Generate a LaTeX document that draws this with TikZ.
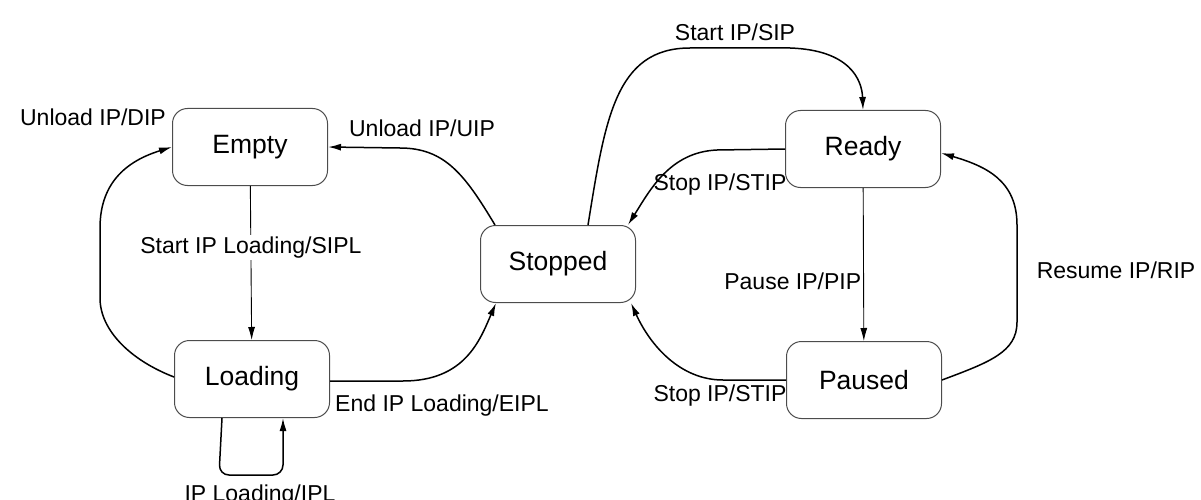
\documentclass[tikz,border=0pt]{standalone}
\usepackage{fontspec}
\setmainfont{Liberation Sans}
\usetikzlibrary{arrows.meta}

\begin{document}
\begin{tikzpicture}[
    x=1pt, y=-1pt,
    state/.style={draw=black!70, line width=1pt, rounded corners=15pt,
      minimum width=155pt, minimum height=77pt, inner sep=0pt,
      font=\fontsize{26.5}{30}\selectfont},
    lbl/.style={font=\fontsize{23}{26}\selectfont, inner sep=2pt},
    trans/.style={line width=1.5pt, -{Latex[length=13pt,width=7pt]}},
    straight/.style={line width=0.9pt, -{Latex[length=13pt,width=7pt]}}
  ]
  \useasboundingbox (0,0) rectangle (1201,500);

  % states
  \node[state] (empty)   at (250,147) {Empty};
  \node[state] (loading) at (252,379) {Loading};
  \node[state] (stopped) at (558,264) {Stopped};
  \node[state] (ready)   at (863,149) {Ready};
  \node[state] (paused)  at (864,380) {Paused};

  % Empty -> Loading
  \draw[straight] (empty) -- node[lbl, fill=white, pos=0.4] {Start IP Loading/SIPL} (loading);

  % Loading -> Empty
  \draw[trans] ([yshift=2pt]loading.west) .. controls (130,360) and (100,330) .. (100,298)
    -- (100,228) .. controls (100,180) and (130,160) .. (empty.west);
  \node[lbl] (dip) at (93,117) {Unload IP/DIP};

  % Stopped -> Empty
  \draw[trans] ([xshift=15pt]stopped.north west) .. controls (465,175) and (445,148) .. (400,148)
    -- (empty.east);
  \node[lbl] (uip) at (422,128) {Unload IP/UIP};

  % Loading -> Stopped
  \draw[trans] ([yshift=-2pt]loading.east) -- (403,381) .. controls (465,381) and (480,340) .. ([xshift=16pt]stopped.south west);
  \node[lbl] (eipl) at (442,406) {End IP Loading/EIPL};

  % Loading self-loop
  \draw[trans, rounded corners=10pt] ([xshift=-30pt]loading.south)
    -- ([xshift=-33pt]loading.south |- 0,475)
    -- ([xshift=31pt]loading.south |- 0,475)
    -- ([xshift=31pt]loading.south);
  \node[lbl] (ipl) at (260,496) {IP Loading/IPL};

  % Stopped -> Ready
  \draw[trans] ([xshift=30pt]stopped.north) .. controls (605,120) and (615,48) .. (690,48)
    -- (790,48) .. controls (850,50) and (862,80) .. (ready.north);
  \node[lbl] (sip) at (735,32) {Start IP/SIP};

  % Ready -> Stopped
  \draw[trans] (ready.west) -- (717,150) .. controls (670,152) and (650,190) .. ([xshift=-8pt]stopped.north east);
  \node[lbl] (stip1) at (720,185) {Stop IP/STIP};

  % Ready -> Paused
  \draw[straight] (ready) -- node[lbl, left, pos=0.61] {Pause IP/PIP} (paused);

  % Paused -> Stopped
  \draw[trans] (paused.west) -- (723,380) .. controls (680,380) and (650,345) .. ([xshift=-5pt]stopped.south east);
  \node[lbl] (stip2) at (720,396) {Stop IP/STIP};

  % Paused -> Ready
  \draw[trans] (paused.east) .. controls (990,362) and (1017,352) .. (1017,322)
    -- (1017,225) .. controls (1017,180) and (985,166) .. ([yshift=-4pt]ready.east);
  \node[lbl] (rip) at (1116,270) {Resume IP/RIP};
\end{tikzpicture}
\end{document}
